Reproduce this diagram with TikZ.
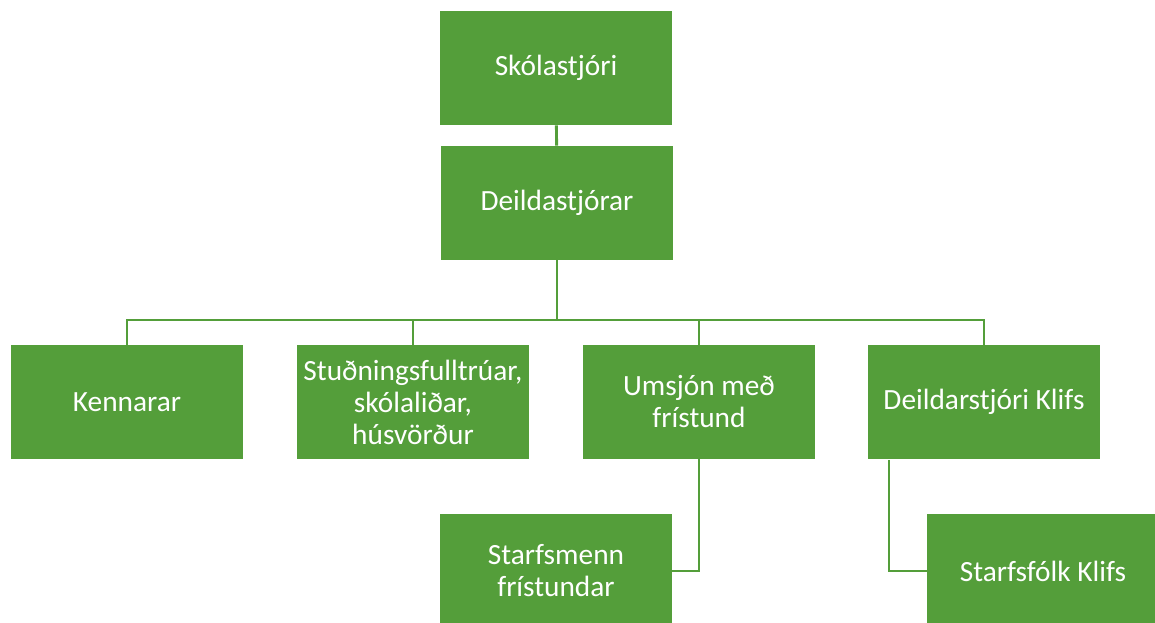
\documentclass[tikz,border=0pt]{standalone}
\usepackage{fontspec}
\setmainfont{Carlito}
\usetikzlibrary{positioning}
\definecolor{orggreen}{RGB}{84,158,58}

\begin{document}
\begin{tikzpicture}[x=0.75pt,y=-0.75pt]
	\tikzset{box/.style = {shape=rectangle,fill=orggreen,text=white,
			minimum width=174pt,minimum height=85.5pt,inner sep=2pt,
			align=center,font=\fontsize{22}{24}\selectfont}}
	\tikzset{edge/.style = {-,draw=orggreen,line width=2.2pt}}
	\useasboundingbox (0,0) rectangle (1155,623);
	\clip (0,0) rectangle (1155,623);
    % top
    \node[box] (sk) at (556,68) {Skólastjóri};
    \node[box] (dj) at (557,203) {Deildastjórar};
    % middle row
    \node[box] (ke) at (127,402) {Kennarar};
    \node[box] (st) at (413,402) {Stuðningsfulltrúar,\\skólaliðar,\\húsvörður};
    \node[box] (um) at (699,402) {Umsjón með\\frístund};
    \node[box] (dk) at (984,402) {Deildarstjóri Klifs};
    % bottom row
    \node[box] (sm) at (556,571) {Starfsmenn\\frístundar};
    \node[box] (sf) at (1043,571) {Starfsfólk Klifs};
    \coordinate (bus) at (557,320);
    \coordinate (kl) at (889,460);
    %edges
	\draw[edge] (sk) -- (dj);
	\draw[edge] (dj.south) -- (bus);
	\draw[edge] (bus) -| (ke.north);
	\draw[edge] (bus) -| (st.north);
	\draw[edge] (bus) -| (um.north);
	\draw[edge] (bus) -| (dk.north);
	\draw[edge] (um.south) |- (sm.east);
	\draw[edge] (kl) |- (sf.west);
\end{tikzpicture}
\end{document}
